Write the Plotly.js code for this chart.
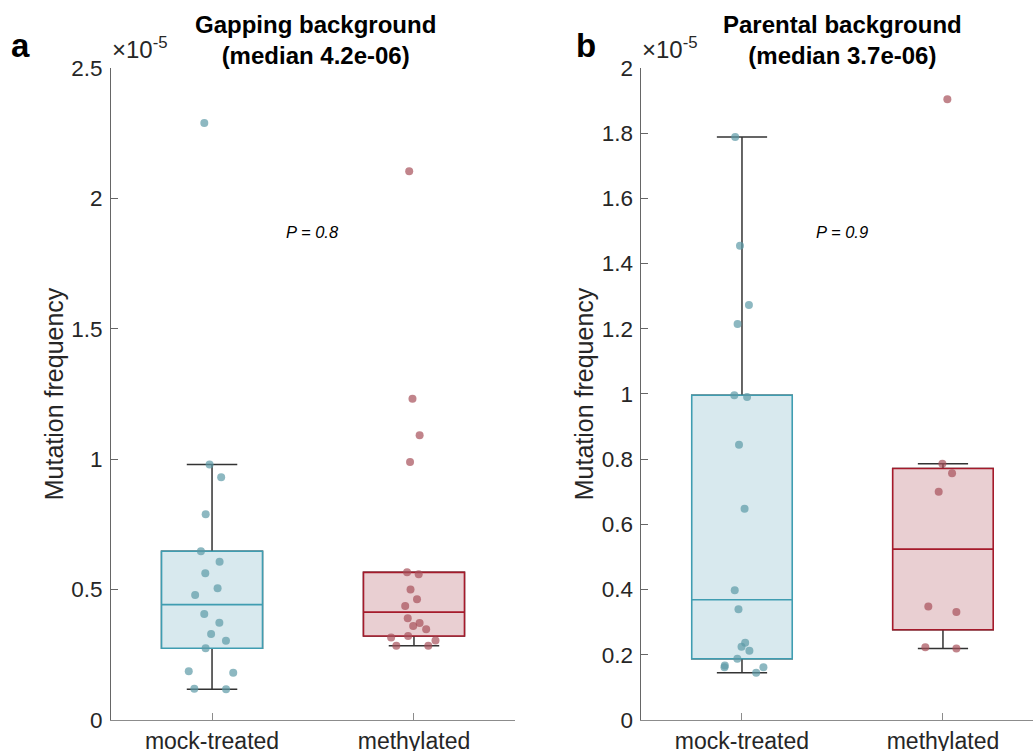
<!DOCTYPE html>
<html>
<head>
<meta charset="utf-8">
<script src="https://cdn.plot.ly/plotly-3.0.1.min.js"></script>
<style>html,body{margin:0;padding:0;background:#fff;}#chart{width:1033px;height:751px;}</style>
</head>
<body>
<div id="chart"></div>
<script>
// Values in units of 1e-5 (mutation frequency)
const categories = ['mock-treated', 'methylated'];
const gappingMock = [2.289, 0.980, 0.931, 0.789, 0.647, 0.607, 0.563, 0.505, 0.479, 0.406, 0.373, 0.330, 0.304, 0.275, 0.187, 0.181, 0.120, 0.118];
const gappingMeth = [2.104, 1.232, 1.092, 0.989, 0.566, 0.559, 0.500, 0.463, 0.437, 0.390, 0.372, 0.360, 0.348, 0.322, 0.316, 0.305, 0.285, 0.285];
const parentalMock = [1.788, 1.455, 1.273, 1.215, 0.996, 0.991, 0.844, 0.648, 0.398, 0.340, 0.237, 0.225, 0.212, 0.188, 0.167, 0.162, 0.162, 0.145];
const parentalMeth = [1.904, 0.786, 0.757, 0.700, 0.348, 0.331, 0.223, 0.219];
const panelTitles = ['<b>Gapping background</b><br><b>(median 4.2e-06)</b>', '<b>Parental background</b><br><b>(median 3.7e-06)</b>'];
const pValues = ['P = 0.8', 'P = 0.9'];
const panelLetters = ['a', 'b'];
const exponentLabel = '\u00d710<sup>-5</sup>';

const COLORS = {
  mock: {line: '#3f9db1', fill: '#d8e9ee', pt: '#5c9aa6'},
  meth: {line: '#a51a2b', fill: '#e9cfd2', pt: '#a7505a'}
};

// MATLAB-style quantile
function quant(sorted, p) {
  const n = sorted.length;
  const pos = p * n + 0.5;
  if (pos <= 1) return sorted[0];
  if (pos >= n) return sorted[n - 1];
  const i = Math.floor(pos), f = pos - i;
  return sorted[i - 1] + f * (sorted[i] - sorted[i - 1]);
}
function stats(vals) {
  const s = vals.slice().sort((a, b) => a - b);
  const q1 = quant(s, 0.25), med = quant(s, 0.5), q3 = quant(s, 0.75);
  const iqr = q3 - q1;
  const lo = s.filter(v => v >= q1 - 1.5 * iqr);
  const hi = s.filter(v => v <= q3 + 1.5 * iqr);
  return {q1, med, q3, lf: Math.min(lo[0], q1), uf: Math.max(hi[hi.length - 1], q3)};
}

const traces = [];
function addGroup(vals, cat, col, xa, ya) {
  const st = stats(vals);
  // whiskers (dark)
  traces.push({type: 'box', x: [cat], q1: [st.q1], median: [st.med], q3: [st.q3],
    lowerfence: [st.lf], upperfence: [st.uf], boxpoints: false,
    width: 0.5, whiskerwidth: 0.5, line: {color: '#333333', width: 1.5},
    fillcolor: 'rgba(0,0,0,0)', xaxis: xa, yaxis: ya, hoverinfo: 'skip'});
  // coloured box
  traces.push({type: 'box', x: [cat], q1: [st.q1], median: [st.med], q3: [st.q3],
    lowerfence: [st.q1], upperfence: [st.q3], boxpoints: false,
    width: 0.5, whiskerwidth: 0, line: {color: col.line, width: 1.6},
    fillcolor: col.fill, xaxis: xa, yaxis: ya});
  // jittered points
  traces.push({type: 'box', x: vals.map(() => cat), y: vals, boxpoints: 'all',
    jitter: 0.55, pointpos: 0, width: 0.5, line: {width: 0, color: 'rgba(0,0,0,0)'},
    fillcolor: 'rgba(0,0,0,0)', marker: {color: col.pt, size: 8, opacity: 0.7, line: {width: 0}},
    xaxis: xa, yaxis: ya});
}
addGroup(gappingMock, categories[0], COLORS.mock, 'x', 'y');
addGroup(gappingMeth, categories[1], COLORS.meth, 'x', 'y');
addGroup(parentalMock, categories[0], COLORS.mock, 'x2', 'y2');
addGroup(parentalMeth, categories[1], COLORS.meth, 'x2', 'y2');

const FONT = 'Liberation Sans, Arial, sans-serif';
const ydom = [0.0413, 0.9095];
function xax(dom, rng, anchor) {
  return {domain: dom, anchor: anchor, type: 'category', categoryarray: categories,
    range: rng, showline: true, linecolor: '#8c8c8c', linewidth: 1, ticks: 'inside',
    ticklen: 7, tickcolor: '#8c8c8c', tickfont: {family: FONT, size: 23, color: '#262626'},
    showgrid: false, zeroline: false, fixedrange: true};
}
function yax(rng, dt, anchor) {
  return {domain: ydom, anchor: anchor, range: rng, dtick: dt, tick0: 0,
    showline: true, linecolor: '#666666', linewidth: 1, ticks: 'inside', ticklen: 7,
    tickcolor: '#666666', tickfont: {family: FONT, size: 22.5, color: '#262626'},
    ticklabelstandoff: 3,
    showgrid: false, zeroline: false, fixedrange: true,
    title: {text: 'Mutation frequency', font: {family: FONT, size: 25, color: '#262626'}, standoff: 0}};
}

const layout = {
  width: 1033, height: 751, margin: {l: 0, r: 0, t: 0, b: 0},
  paper_bgcolor: '#ffffff', plot_bgcolor: '#ffffff', showlegend: false, boxmode: 'overlay',
  xaxis: xax([0.1075, 0.4985], [-0.5, 1.5], 'y'),
  yaxis: yax([0, 2.5], 0.5, 'x'),
  xaxis2: xax([0.621, 1.0], [-0.5, 1.448], 'y2'),
  yaxis2: yax([0, 2], 0.2, 'x2'),
  annotations: [
    {xref: 'paper', yref: 'paper', x: 315 / 1033, y: 1 - 40 / 751, text: panelTitles[0], showarrow: false,
      font: {family: FONT, size: 24, color: '#000'}, xanchor: 'center', yanchor: 'middle'},
    {xref: 'paper', yref: 'paper', x: 842 / 1033, y: 1 - 40 / 751, text: panelTitles[1], showarrow: false,
      font: {family: FONT, size: 24, color: '#000'}, xanchor: 'center', yanchor: 'middle'},
    {xref: 'paper', yref: 'paper', x: 20 / 1033, y: 1 - 45 / 751, text: '<b>' + panelLetters[0] + '</b>', showarrow: false,
      font: {family: FONT, size: 33, color: '#000'}, xanchor: 'center', yanchor: 'middle'},
    {xref: 'paper', yref: 'paper', x: 586 / 1033, y: 1 - 45 / 751, text: '<b>' + panelLetters[1] + '</b>', showarrow: false,
      font: {family: FONT, size: 33, color: '#000'}, xanchor: 'center', yanchor: 'middle'},
    {xref: 'paper', yref: 'paper', x: 110 / 1033, y: 1 - 48 / 751, text: exponentLabel, showarrow: false,
      font: {family: FONT, size: 24, color: '#262626'}, xanchor: 'left', yanchor: 'middle'},
    {xref: 'paper', yref: 'paper', x: 640 / 1033, y: 1 - 48 / 751, text: exponentLabel, showarrow: false,
      font: {family: FONT, size: 24, color: '#262626'}, xanchor: 'left', yanchor: 'middle'},
    {xref: 'x', yref: 'y', x: 0.5, y: 1.87, text: '<i>' + pValues[0] + '</i>', showarrow: false,
      font: {family: FONT, size: 16.5, color: '#000'}},
    {xref: 'x2', yref: 'y2', x: 0.5, y: 1.497, text: '<i>' + pValues[1] + '</i>', showarrow: false,
      font: {family: FONT, size: 16.5, color: '#000'}}
  ]
};

Plotly.newPlot('chart', traces, layout, {displayModeBar: false, staticPlot: true});
</script>
</body>
</html>
